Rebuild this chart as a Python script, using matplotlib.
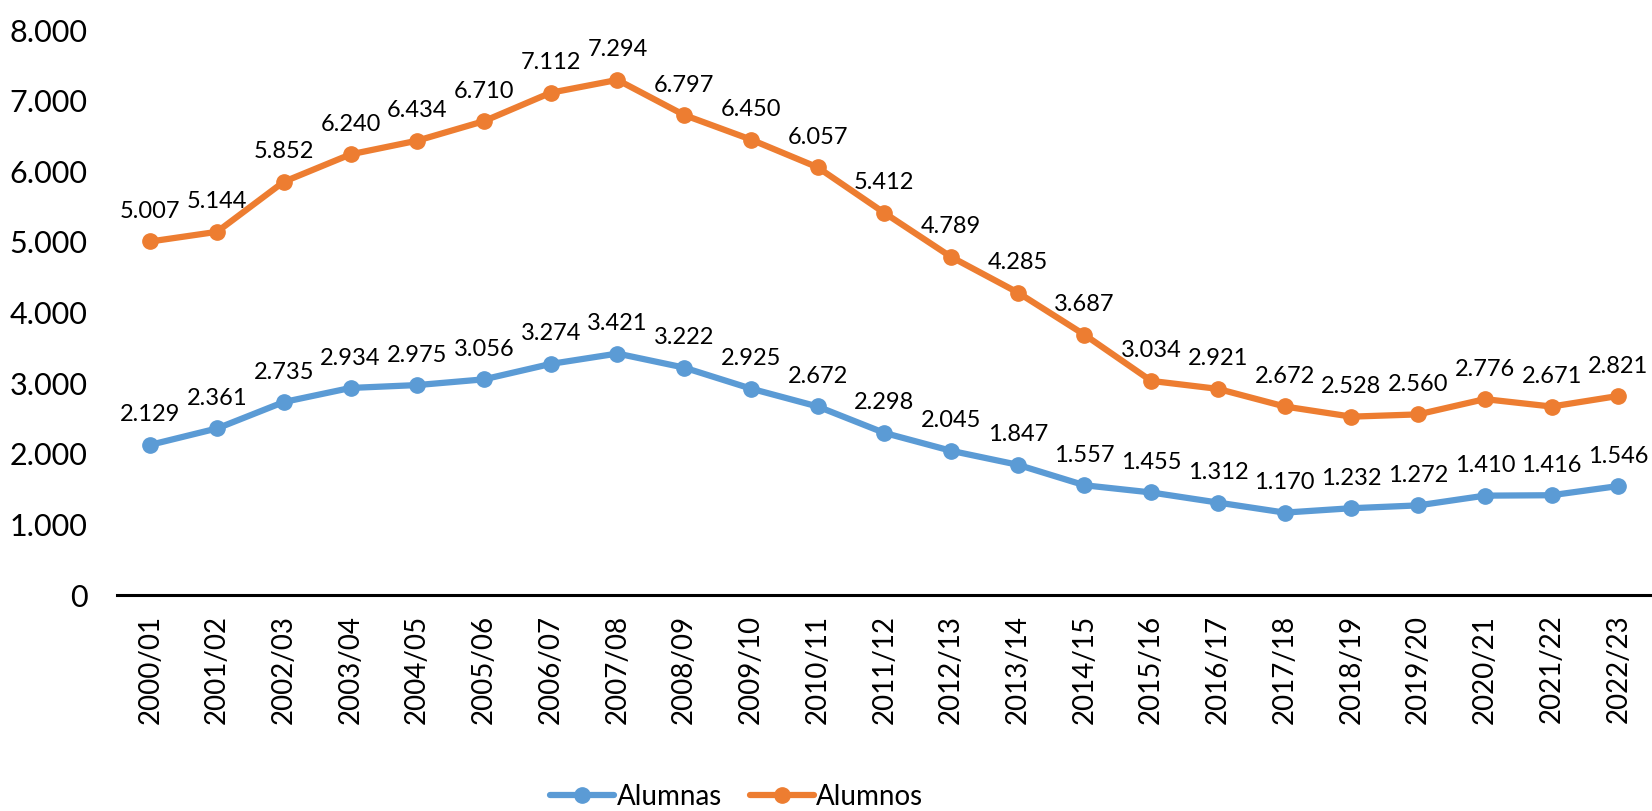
import matplotlib
matplotlib.use("Agg")
import matplotlib.pyplot as plt
from matplotlib.ticker import FuncFormatter

# datos
cursos = ["2000/01", "2001/02", "2002/03", "2003/04", "2004/05", "2005/06",
          "2006/07", "2007/08", "2008/09", "2009/10", "2010/11", "2011/12",
          "2012/13", "2013/14", "2014/15", "2015/16", "2016/17", "2017/18",
          "2018/19", "2019/20", "2020/21", "2021/22", "2022/23"]
alumnas = [2129, 2361, 2735, 2934, 2975, 3056, 3274, 3421, 3222, 2925, 2672,
           2298, 2045, 1847, 1557, 1455, 1312, 1170, 1232, 1272, 1410, 1416, 1546]
alumnos = [5007, 5144, 5852, 6240, 6434, 6710, 7112, 7294, 6797, 6450, 6057,
           5412, 4789, 4285, 3687, 3034, 2921, 2672, 2528, 2560, 2776, 2671, 2821]
y_ticks = [0, 1000, 2000, 3000, 4000, 5000, 6000, 7000, 8000]


def miles(v):
    return f"{int(v):,}".replace(",", ".")


plt.rcParams['font.family'] = ['Lato', 'DejaVu Sans']

fig = plt.figure(figsize=(16.52, 8.11), dpi=100)
ax = fig.add_axes([0.0708, 0.266, 0.929, 0.697])

x = list(range(len(cursos)))
series = [("Alumnas", alumnas, "#5B9BD5"), ("Alumnos", alumnos, "#ED7D31")]
for nombre, vals, color in series:
    ax.plot(x, vals, color=color, lw=4.5, marker="o", markersize=11,
            label=nombre, solid_capstyle="round", clip_on=False)
    for xi, v in zip(x, vals):
        ax.annotate(miles(v), (xi, v), xytext=(0, 14), textcoords="offset points",
                    ha="center", va="bottom", fontsize=17)

ax.set_xlim(-0.5, len(cursos) - 0.5)
ax.set_ylim(0, 8000)
ax.set_yticks(y_ticks)
ax.yaxis.set_major_formatter(FuncFormatter(lambda v, p: miles(v)))
ax.set_xticks(x)
ax.set_xticklabels(cursos, rotation=90)
ax.tick_params(axis="y", length=0, pad=21, labelsize=22)
ax.tick_params(axis="x", length=0, pad=14, labelsize=20)
for s in ["top", "right", "left"]:
    ax.spines[s].set_visible(False)
ax.spines["bottom"].set_linewidth(2.2)

fig.legend(loc="center", bbox_to_anchor=(0.446, 0.017), ncol=2, frameon=False,
           fontsize=20, handlelength=2.3, columnspacing=1.0, handletextpad=0.1)

fig.savefig("out.png", dpi=100)
